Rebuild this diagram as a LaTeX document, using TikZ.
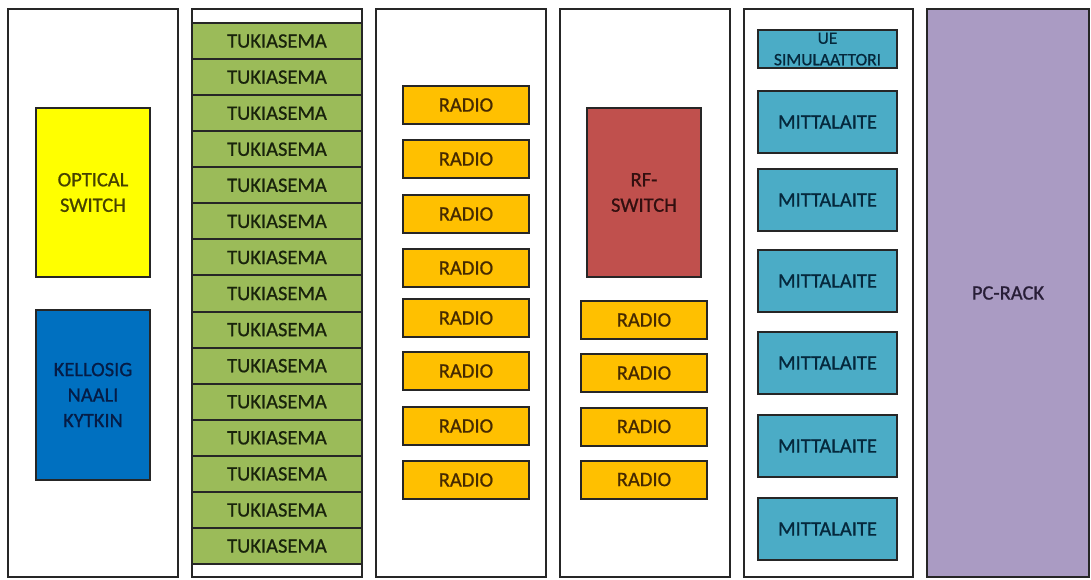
\documentclass[tikz,border=0pt]{standalone}
\usepackage{fontspec}
\setmainfont{Carlito}
\newfontfamily\lblfont{Carlito}[FakeBold=0.8]
\definecolor{cgreen}{RGB}{155,187,89}
\definecolor{cyellow}{RGB}{255,255,0}
\definecolor{cblue}{RGB}{0,112,192}
\definecolor{cred}{RGB}{192,80,77}
\definecolor{corange}{RGB}{255,192,0}
\definecolor{cteal}{RGB}{75,172,198}
\definecolor{cpurple}{RGB}{170,155,195}
\definecolor{tgreen}{RGB}{25,35,12}
\definecolor{tyellow}{RGB}{70,65,0}
\definecolor{tblue}{RGB}{5,28,70}
\definecolor{tred}{RGB}{50,15,15}
\definecolor{torange}{RGB}{70,42,0}
\definecolor{tteal}{RGB}{5,40,60}
\definecolor{tpurple}{RGB}{40,30,55}
\tikzset{
  rack/.style={draw=black!85, line width=2.2pt, fill=white, inner sep=0pt, outer sep=0pt},
  box/.style={draw=black!85, line width=2pt, inner sep=0pt, outer sep=0pt, align=center,
    font=\lblfont\fontsize{20.5}{25.5}\selectfont},
  tuki/.style={box, fill=cgreen, text=tgreen, minimum width=170pt, minimum height=36.07pt},
  radio/.style={box, fill=corange, text=torange, minimum width=126pt, minimum height=38pt},
  mitta/.style={box, fill=cteal, text=tteal, minimum width=139pt, minimum height=62pt},
}
\begin{document}
\begin{tikzpicture}[x=1pt,y=-1pt]
\useasboundingbox (0,0) rectangle (1091,579);
% racks
\node[rack, minimum width=170pt, minimum height=568pt] (r1) at (93,293) {};
\node[rack, minimum width=170pt, minimum height=568pt] (r2) at (277,293) {};
\node[rack, minimum width=170pt, minimum height=568pt] (r3) at (461,293) {};
\node[rack, minimum width=170pt, minimum height=568pt] (r4) at (645,293) {};
\node[rack, minimum width=169pt, minimum height=568pt] (r5) at (828.5,293) {};
\node[rack, fill=cpurple, text=tpurple, minimum width=162pt, minimum height=568pt,
  font=\lblfont\fontsize{20.5}{25.5}\selectfont] (pc) at (1008,293) {PC-RACK};
% rack 1
\node[box, fill=cyellow, text=tyellow, minimum width=114pt, minimum height=169pt] (opt) at (93,192.5) {OPTICAL\\SWITCH};
\node[box, fill=cblue, text=tblue, minimum width=114pt, minimum height=170pt] (kello) at (93,395) {KELLOSIG\\NAALI\\KYTKIN};
% rack 2
\foreach \i in {0,...,14}{
  \node[tuki] (t\i) at (277,{23+36.07*\i+18.035}) {TUKIASEMA};
}
% rack 3
\foreach \y [count=\i] in {105,159,214,268,318,371,426,480}{
  \node[radio] (ra\i) at (466,\y) {RADIO};
}
% rack 4
\node[box, fill=cred, text=tred, minimum width=114pt, minimum height=169pt] (rf) at (644,192.5) {RF-\\SWITCH};
\foreach \y [count=\i] in {320,373,426.5,479.5}{
  \node[radio] (rb\i) at (644,\y) {RADIO};
}
% rack 5
\node[box, fill=cteal, text=tteal, minimum width=139pt, minimum height=38pt,
  font=\lblfont\fontsize{17.5}{21.5}\selectfont] (ue) at (827.5,49) {UE\\SIMULAATTORI};
\foreach \y [count=\i] in {122,200,281,363,446,529}{
  \node[mitta] (m\i) at (827.5,\y) {MITTALAITE};
}
\end{tikzpicture}
\end{document}
